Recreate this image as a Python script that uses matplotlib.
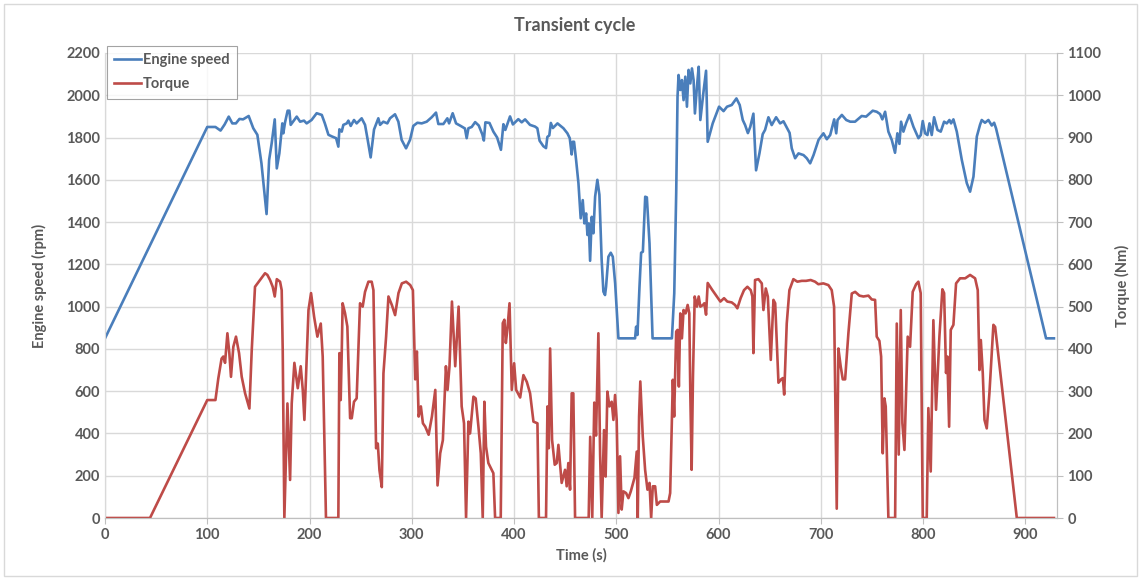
import matplotlib
matplotlib.use("Agg")
import matplotlib.pyplot as plt
from matplotlib.patches import Rectangle

plt.rcParams["font.family"] = ["Lato", "DejaVu Sans"]

# Engine speed trace (time in s, speed in rpm)
speed_t = [0, 100, 108, 113, 117, 121, 124.5, 128, 131.5, 135, 140.5, 145, 149, 153,
           158, 160.5, 163, 166, 168, 170.5, 173.4, 174.4, 176, 178.6, 180.3, 181.6,
           187.5, 190.8, 194.6, 197.2, 202, 207, 212, 215, 218.5, 222, 226, 228.2,
           229.2, 231.5, 233.1, 236.4, 238, 240.3, 243.5, 246.1, 251, 254.3, 256.9,
           259.8, 263.1, 267.3, 269, 272.2, 276.1, 278.7, 283.6, 286.9, 290.1, 294.4,
           298.3, 301.5, 305.5, 309.7, 314.6, 319.5, 323.7, 326, 330.9, 334.8, 336.5,
           340, 343.3, 347.8, 352, 353.7, 355.4, 358.6, 362, 365.5, 369, 370.5, 372,
           376, 379.8, 383.5, 387.2, 389.6, 391.5, 396.1, 398.9, 404.2, 407.5, 410.8,
           415.6, 420.5, 422.8, 425, 428.7, 431.3, 432.6, 434.5, 436, 438, 442.5,
           448.3, 452.2, 454.5, 456.4, 457.4, 458.7, 460.7, 463, 465.2, 467.2, 468.8,
           470.5, 471.8, 473.1, 474.4, 476, 477.6, 479.3, 481.5, 483.5, 485.7, 487.4,
           489, 490, 492.3, 494.6, 496.6, 498.9, 502.1, 518.4, 519.4, 520.7, 522.7,
           524.3, 526, 528.3, 529.9, 532.5, 535.5, 554.4, 556.7, 558.6, 559.9, 560.9,
           562.6, 564.2, 565.8, 567.5, 569.1, 570.7, 572.4, 574, 575.6, 576.9, 578.9,
           580.6, 582.2, 585.5, 587.8, 589.4, 594.3, 600.5, 604.9, 608.3, 612.9,
           617.5, 620.7, 623.7, 626, 628.7, 631, 634.1, 636.7, 640, 643.2, 645.5,
           648.8, 652, 656.3, 660.2, 663.5, 666.5, 669.5, 671.6, 674.9, 678.2, 683.1,
           686.3, 689.6, 692.9, 697.8, 702.6, 705.9, 709.2, 713.1, 715.1, 716.4,
           720.6, 724.9, 728.8, 733.5, 740, 744.3, 750.8, 754.7, 758, 760.2, 762.9,
           766.1, 769.4, 772.6, 774.9, 776.9, 778.5, 780.8, 783.4, 786.7, 790.6,
           795.5, 797.8, 799.7, 802, 804.3, 806.3, 808.5, 810.8, 814.1, 817.3, 820.6,
           823.2, 825.8, 827.4, 829.7, 833, 837.9, 842.8, 846, 849.3, 852.6, 855.7,
           857.4, 860.6, 863.9, 867.2, 869.5, 871.4, 920.3, 928]
speed_rpm = [850, 1850, 1850, 1833, 1862, 1899, 1867, 1867, 1888, 1886, 1902, 1844, 1813,
             1678, 1438, 1694, 1773, 1886, 1654, 1725, 1867, 1820, 1870, 1927, 1927,
             1860, 1899, 1875, 1880, 1867, 1883, 1915, 1907, 1867, 1813, 1805, 1797,
             1757, 1839, 1828, 1860, 1867, 1880, 1855, 1883, 1867, 1891, 1860, 1789,
             1706, 1838, 1891, 1860, 1875, 1867, 1891, 1910, 1875, 1789, 1749, 1789,
             1855, 1870, 1867, 1875, 1896, 1918, 1864, 1864, 1891, 1867, 1915, 1867,
             1855, 1843, 1797, 1844, 1850, 1873, 1857, 1815, 1786, 1872, 1869, 1828,
             1800, 1742, 1863, 1836, 1900, 1862, 1887, 1872, 1886, 1860, 1852, 1844,
             1785, 1759, 1750, 1803, 1810, 1869, 1845, 1867, 1844, 1820, 1797, 1720,
             1780, 1780, 1694, 1584, 1418, 1504, 1394, 1441, 1339, 1394, 1217, 1425,
             1347, 1520, 1600, 1529, 1221, 1071, 1055, 1094, 1236, 1255, 1236, 1110,
             850, 850, 905, 866, 1094, 1255, 1260, 1520, 1517, 1299, 850, 850, 1063,
             1536, 1993, 2096, 2025, 2072, 1977, 2088, 1946, 2120, 2056, 2127, 2072,
             1914, 2041, 2135, 1883, 2025, 2116, 1780, 1867, 1946, 1925, 1946, 1954,
             1985, 1954, 1883, 1859, 1821, 1850, 1913, 1645, 1725, 1816, 1836, 1896,
             1859, 1896, 1867, 1877, 1850, 1822, 1749, 1702, 1725, 1717, 1702, 1678,
             1717, 1789, 1820, 1792, 1812, 1886, 1820, 1883, 1907, 1883, 1875, 1875,
             1902, 1899, 1927, 1922, 1911, 1886, 1922, 1828, 1789, 1728, 1820, 1770,
             1875, 1828, 1867, 1907, 1851, 1797, 1812, 1878, 1820, 1812, 1867, 1812,
             1896, 1836, 1828, 1875, 1867, 1883, 1867, 1886, 1828, 1694, 1584, 1544,
             1615, 1805, 1860, 1883, 1870, 1883, 1857, 1870, 1843, 850, 850]

# Torque trace (time in s, torque in Nm)
torque_t = [0, 44, 100, 108, 110.8, 114, 115.7, 117.4, 119.7, 121.6, 123.2, 125.5, 128.1,
            131.1, 133.7, 137, 141.2, 143.5, 146.7, 151.6, 156.5, 158.8, 161.4, 164,
            166, 168, 171.2, 172.8, 173.8, 175.4, 178.4, 181, 182.6, 185.2, 188.5,
            191.4, 193.4, 195, 197.3, 199, 201.5, 204.5, 207.7, 211, 212.9, 216.1,
            228.2, 229.2, 230.5, 231.5, 232.4, 234.7, 237, 239.7, 241.3, 243.5, 246.1,
            249.4, 252, 254.3, 257.6, 260.8, 262.5, 265.1, 266.8, 268.4, 270.7, 272.3,
            274.9, 277.2, 280.5, 283.7, 287, 290.3, 294.5, 298.5, 301.1, 302.7, 303.4,
            305, 306.7, 308.9, 310.9, 313.2, 316.5, 319.7, 323, 325.2, 327.8, 330.4,
            333.4, 335, 336.9, 339.3, 342.5, 345.8, 348.8, 351.1, 353.1, 355.4, 357,
            360.3, 362.5, 365.2, 367.5, 369.4, 371, 372.6, 374.9, 378.2, 379.8, 381.5,
            387, 389, 390.6, 392, 393.6, 395.6, 397.8, 400.1, 402.1, 406, 409.2, 412.5,
            415.7, 419, 422.9, 424.3, 431.3, 432.7, 434, 435.3, 437.2, 439.8, 441.8,
            443.4, 446.6, 449.9, 451.5, 453.1, 454.8, 456.4, 458, 459.7, 473, 474.5,
            476.5, 478.5, 480.2, 482.5, 484.2, 485.7, 488, 489.6, 491.3, 493.3, 495.5,
            497.2, 498.8, 500.4, 502.1, 503.7, 505.3, 507, 509.6, 511.9, 514.2, 517.8,
            520, 521, 522.3, 523.5, 525.9, 528.2, 530.5, 532.5, 534.1, 535.7, 538,
            539.7, 542.9, 551.1, 552.7, 555.3, 556.6, 558.6, 559.9, 561.2, 562.6,
            564.2, 565.8, 567.8, 569.8, 571.4, 572.4, 573.7, 575, 576.7, 578.9, 580.6,
            582.2, 584.8, 586.1, 587.8, 589.4, 593.7, 598.6, 601.8, 605.4, 608.6,
            612.9, 616.1, 618.4, 621.6, 624.9, 628.2, 631.5, 633.1, 634.1, 635.7, 639,
            642.3, 643.9, 646.2, 648.2, 651.1, 653.7, 655.4, 658.6, 661.2, 662.9,
            664.2, 666.7, 669.3, 673.2, 677.1, 681.4, 685.6, 690.1, 694.4, 697.6,
            702.5, 707.4, 710.7, 713, 715.6, 717.2, 719.5, 721.5, 723.8, 727, 730.3,
            733.6, 737.8, 741.7, 746.6, 749.8, 753.1, 754.7, 757.3, 759, 760.6, 762.2,
            763.5, 766.1, 772.7, 774.3, 776.2, 778.2, 779.8, 781.8, 785, 787.3, 789.9,
            793.2, 795.4, 797.7, 799.7, 803.6, 805.2, 807.5, 810.1, 812.7, 816, 818.9,
            820.6, 822.5, 823.8, 825.5, 827.1, 829.7, 832.3, 836.2, 841.2, 846, 850.9,
            853.5, 855.2, 856.5, 858.4, 860.1, 862.3, 864.9, 868.8, 870.5, 891.7, 928]
torque_nm = [0, 0, 279, 279, 330, 377, 382, 367, 437, 390, 334, 405, 429, 390, 334, 295,
             259, 397, 547, 563, 579, 575, 563, 547, 524, 565, 559, 539, 397, 0, 271, 90,
             271, 367, 307, 359, 303, 232, 382, 492, 532, 476, 429, 460, 382, 0, 0, 390,
             279, 390, 508, 485, 453, 236, 236, 275, 283, 508, 500, 535, 559, 559, 539,
             165, 176, 113, 73, 342, 429, 524, 504, 480, 532, 555, 559, 551, 539, 397,
             328, 394, 240, 264, 224, 216, 197, 240, 303, 77, 153, 184, 359, 303, 359,
             512, 359, 500, 264, 224, 0, 228, 200, 287, 283, 216, 153, 0, 275, 169, 130,
             114, 106, 0, 0, 461, 469, 414, 449, 508, 303, 366, 303, 285, 338, 322, 295,
             228, 224, 0, 0, 264, 165, 401, 185, 126, 130, 173, 83, 114, 75, 130, 67, 295,
             295, 0, 0, 192, 0, 273, 195, 437, 150, 0, 208, 98, 299, 264, 275, 232, 291,
             232, 12, 146, 20, 63, 59, 47, 63, 95, 157, 0, 240, 323, 193, 114, 67, 83, 0,
             75, 75, 31, 39, 39, 59, 327, 240, 441, 445, 311, 484, 425, 492, 484, 504,
             484, 295, 114, 335, 524, 500, 524, 500, 504, 508, 481, 556, 540, 523, 512,
             520, 512, 510, 504, 496, 520, 539, 547, 539, 524, 390, 563, 565, 555, 492,
             543, 524, 374, 516, 508, 320, 328, 331, 292, 460, 539, 565, 559, 561, 561,
             563, 559, 553, 555, 551, 539, 500, 22, 401, 358, 328, 328, 437, 531, 535,
             526, 524, 526, 517, 516, 429, 419, 382, 153, 283, 264, 0, 0, 460, 150, 492,
             224, 161, 429, 405, 535, 553, 559, 532, 0, 0, 260, 110, 468, 256, 429, 541,
             532, 343, 382, 216, 445, 457, 555, 567, 567, 575, 567, 539, 350, 421, 343,
             232, 212, 295, 457, 452, 0, 0]

BLUE = "#4a7ebb"
RED = "#be4b48"
TXT = "#595959"
GRID = "#d9d9d9"

fig = plt.figure(figsize=(11.41, 5.80), dpi=100)
ax = fig.add_axes([105 / 1141, 1 - 518 / 580, (1057 - 105) / 1141, (518 - 53) / 580])
ax2 = ax.twinx()

# outer chart border, Excel style
fig.patches.append(Rectangle((4 / 1141, 4 / 580), 1 - 8 / 1141, 1 - 8 / 580,
                             transform=fig.transFigure, fill=False,
                             edgecolor=GRID, lw=1))

l1, = ax.plot(speed_t, speed_rpm, color=BLUE, lw=1.9, label="Engine speed")
l2, = ax2.plot(torque_t, torque_nm, color=RED, lw=1.9, label="Torque")

ax.set_xlim(0, 931)
ax.set_ylim(0, 2200)
ax2.set_ylim(0, 1100)
ax.set_xticks(range(0, 901, 100))
ax.set_yticks(range(0, 2201, 200))
ax2.set_yticks(range(0, 1101, 100))

ax.grid(True, color=GRID, lw=1)
ax.set_axisbelow(True)
for a in (ax, ax2):
    a.spines["top"].set_visible(False)
    a.spines["left"].set_color(GRID)
    a.spines["bottom"].set_color("#bfbfbf")
    a.spines["right"].set_color("#bfbfbf")
    a.tick_params(colors="#bfbfbf", labelcolor=TXT, labelsize=10.5, length=4)
ax.tick_params(axis="y", length=0)
for lab in ax.get_xticklabels() + ax.get_yticklabels() + ax2.get_yticklabels():
    lab.set_fontweight("bold")

ax.set_xlabel("Time (s)", color=TXT, fontsize=10.5, fontweight="bold", labelpad=4)
ax.set_ylabel("Engine speed (rpm)", color=TXT, fontsize=10.5, fontweight="bold", labelpad=14)
ax2.set_ylabel("Torque (Nm)", color=TXT, fontsize=10.5, fontweight="bold", labelpad=10)

fig.text(575 / 1141, 1 - 26 / 580, "Transient cycle", ha="center", va="center",
         color=TXT, fontsize=13, fontweight="bold")

leg = ax.legend(handles=[l1, l2], loc="upper left",
                bbox_to_anchor=(107 / 1141, 1 - 46 / 580),
                bbox_transform=fig.transFigure, borderaxespad=0,
                frameon=True, fancybox=False, handlelength=1.8, handletextpad=0.15,
                labelspacing=0.7, borderpad=0.5, prop={"weight": "bold", "size": 10.5})
leg.get_frame().set_edgecolor("#8c8c8c")
leg.get_frame().set_linewidth(0.8)
for t in leg.get_texts():
    t.set_color(TXT)
leg.set_zorder(10)

fig.savefig("out.png", dpi=100)
